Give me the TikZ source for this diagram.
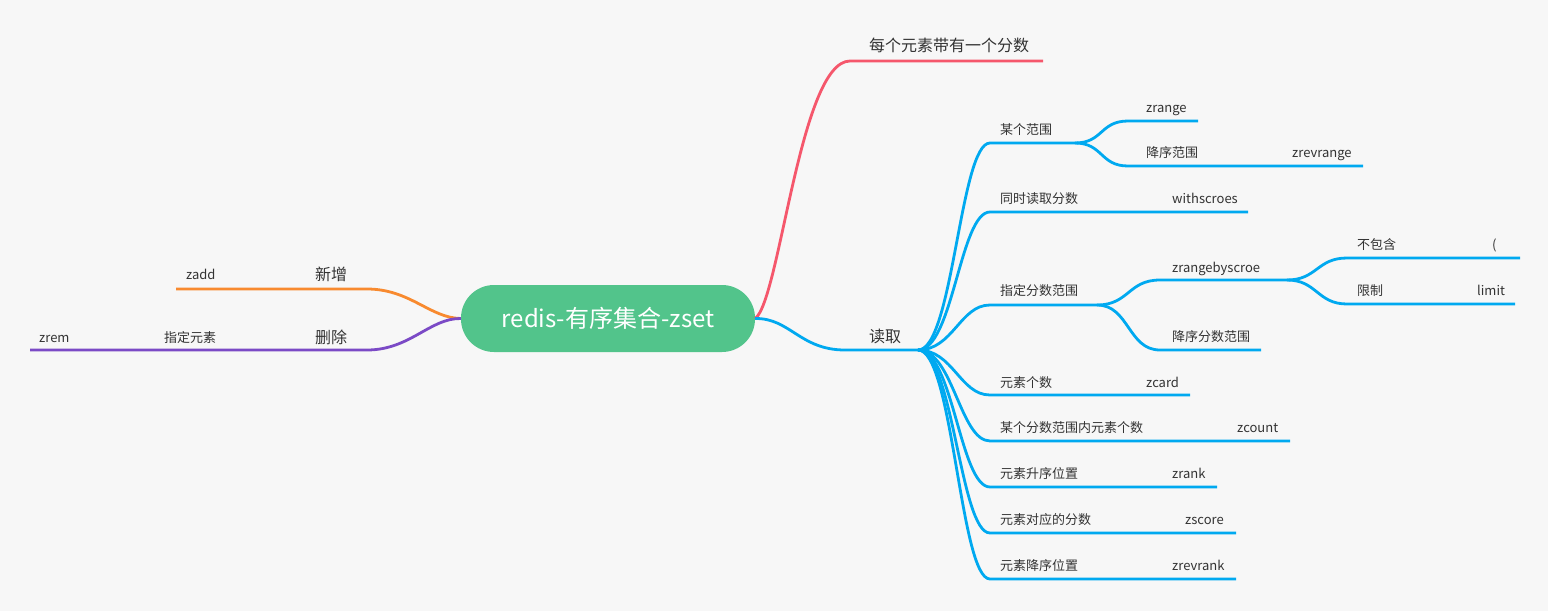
\documentclass[tikz,border=0pt]{standalone}
\usepackage{fontspec}
\setmainfont{Noto Sans CJK SC}
\definecolor{bgcol}{HTML}{F7F7F7}
\definecolor{rootgreen}{HTML}{52C48B}
\definecolor{readblue}{HTML}{00A9F0}
\definecolor{scorered}{HTML}{F5576C}
\definecolor{addorange}{HTML}{F88A2F}
\definecolor{delpurple}{HTML}{7B4AC6}
\definecolor{txtcol}{HTML}{333333}
\tikzset{
    root/.style={fill=rootgreen, rounded corners=33pt, minimum width=294pt, minimum height=67pt,
        inner sep=0pt, text=white, font=\fontsize{24}{28}\selectfont, text height=20pt, text depth=2pt},
    lbl/.style={anchor=west, inner sep=0pt, text=txtcol, font=\fontsize{13}{15}\selectfont,
        text height=11pt, text depth=1pt},
    toplbl/.style={anchor=west, inner sep=0pt, text=txtcol, font=\fontsize{16}{19}\selectfont,
        text height=13.5pt, text depth=1.5pt},
    branch/.style={line width=2.8pt},
    readline/.style={branch, readblue},
    scoreline/.style={branch, scorered},
    addline/.style={branch, addorange},
    delline/.style={branch, delpurple},
}

\begin{document}
\begin{tikzpicture}[x=1pt, y=-1pt]
    % 背景
    \fill[bgcol] (0,0) rectangle (1548,611);
    \useasboundingbox (0,0) rectangle (1548,611);
    % 节点
    \node[root] (zset) at (608,318.5) {redis-有序集合-zset};
    \node[toplbl] (score) at (869,45) {每个元素带有一个分数};
    \node[toplbl] (read) at (869,336) {读取};
    \node[toplbl] (add) at (315,274) {新增};
    \node[lbl] (zadd) at (186,274) {zadd};
    \node[toplbl] (del) at (315,337) {删除};
    \node[lbl] (delel) at (164,337) {指定元素};
    \node[lbl] (zrem) at (39,337) {zrem};
    % 读取的子节点
    \node[lbl] (rng) at (1000,129) {某个范围};
    \node[lbl] (zrange) at (1146,107) {zrange};
    \node[lbl] (rngrev) at (1146,152) {降序范围};
    \node[lbl] (zrevrange) at (1292,152) {zrevrange};
    \node[lbl] (withsc) at (1000,198) {同时读取分数};
    \node[lbl] (withscroes) at (1172,198) {withscroes};
    \node[lbl] (bysc) at (1000,290) {指定分数范围};
    \node[lbl] (zrbs) at (1172,267) {zrangebyscroe};
    \node[lbl] (excl) at (1357,244) {不包含};
    \node[lbl] (paren) at (1492,244) {(};
    \node[lbl] (lim) at (1357,290) {限制};
    \node[lbl] (limit) at (1477,290) {limit};
    \node[lbl] (revbs) at (1172,336) {降序分数范围};
    \node[lbl] (card) at (1000,382) {元素个数};
    \node[lbl] (zcard) at (1146,382) {zcard};
    \node[lbl] (count) at (1000,427) {某个分数范围内元素个数};
    \node[lbl] (zcount) at (1237,427) {zcount};
    \node[lbl] (rank) at (1000,473) {元素升序位置};
    \node[lbl] (zrank) at (1172,473) {zrank};
    \node[lbl] (elsc) at (1000,519) {元素对应的分数};
    \node[lbl] (zscore) at (1185,519) {zscore};
    \node[lbl] (revrank) at (1000,565) {元素降序位置};
    \node[lbl] (zrevrank) at (1172,565) {zrevrank};
    % 线上的端点
    \coordinate (score-s) at (850,61);   \coordinate (score-e) at (1043,61);
    \coordinate (read-s) at (845,350);   \coordinate (read-e) at (918,350);
    \coordinate (add-s) at (367,289);    \coordinate (add-e) at (176,289);
    \coordinate (del-s) at (367,350);    \coordinate (del-e) at (30,350);
    \coordinate (rng-s) at (990,143);    \coordinate (rng-e) at (1075,143);
    \coordinate (zrange-s) at (1128,121); \coordinate (zrange-e) at (1198,121);
    \coordinate (rngrev-s) at (1128,166); \coordinate (rngrev-e) at (1363,166);
    \coordinate (withsc-s) at (990,212); \coordinate (withsc-e) at (1248,212);
    \coordinate (bysc-s) at (990,305);   \coordinate (bysc-e) at (1097,305);
    \coordinate (zrbs-s) at (1160,280);  \coordinate (zrbs-e) at (1287,280);
    \coordinate (excl-s) at (1347,258);  \coordinate (excl-e) at (1520,258);
    \coordinate (lim-s) at (1347,304);   \coordinate (lim-e) at (1515,304);
    \coordinate (revbs-s) at (1160,350); \coordinate (revbs-e) at (1261,350);
    \coordinate (card-s) at (990,395);   \coordinate (card-e) at (1190,395);
    \coordinate (count-s) at (990,441);  \coordinate (count-e) at (1290,441);
    \coordinate (rank-s) at (990,487);   \coordinate (rank-e) at (1217,487);
    \coordinate (elsc-s) at (990,533);   \coordinate (elsc-e) at (1236,533);
    \coordinate (revrank-s) at (990,579); \coordinate (revrank-e) at (1236,579);
    % 主分支
    \draw[scoreline] (zset.east) .. controls (780,300) and (800,61) .. (score-s) -- (score-e);
    \draw[readline] (zset.east) .. controls (790,318) and (800,350) .. (read-s) -- (read-e);
    \draw[addline] (zset.west) .. controls (430,318) and (410,289) .. (add-s) -- (add-e);
    \draw[delline] (zset.west) .. controls (430,318) and (410,350) .. (del-s) -- (del-e);
    % 读取的分支
    \draw[readline] (read-e) .. controls +(35,0) and +(-30,0) .. (rng-s) -- (rng-e);
    \draw[readline] (read-e) .. controls +(35,0) and +(-30,0) .. (withsc-s) -- (withsc-e);
    \draw[readline] (read-e) .. controls +(35,0) and +(-30,0) .. (bysc-s) -- (bysc-e);
    \draw[readline] (read-e) .. controls +(35,0) and +(-30,0) .. (card-s) -- (card-e);
    \draw[readline] (read-e) .. controls +(35,0) and +(-30,0) .. (count-s) -- (count-e);
    \draw[readline] (read-e) .. controls +(35,0) and +(-30,0) .. (rank-s) -- (rank-e);
    \draw[readline] (read-e) .. controls +(35,0) and +(-30,0) .. (elsc-s) -- (elsc-e);
    \draw[readline] (read-e) .. controls +(35,0) and +(-30,0) .. (revrank-s) -- (revrank-e);
    % 第三层
    \draw[readline] (rng-e) .. controls +(28,0) and +(-28,0) .. (zrange-s) -- (zrange-e);
    \draw[readline] (rng-e) .. controls +(28,0) and +(-28,0) .. (rngrev-s) -- (rngrev-e);
    \draw[readline] (bysc-e) .. controls +(32,0) and +(-32,0) .. (zrbs-s) -- (zrbs-e);
    \draw[readline] (bysc-e) .. controls +(32,0) and +(-32,0) .. (revbs-s) -- (revbs-e);
    \draw[readline] (zrbs-e) .. controls +(30,0) and +(-30,0) .. (excl-s) -- (excl-e);
    \draw[readline] (zrbs-e) .. controls +(30,0) and +(-30,0) .. (lim-s) -- (lim-e);
\end{tikzpicture}
\end{document}
